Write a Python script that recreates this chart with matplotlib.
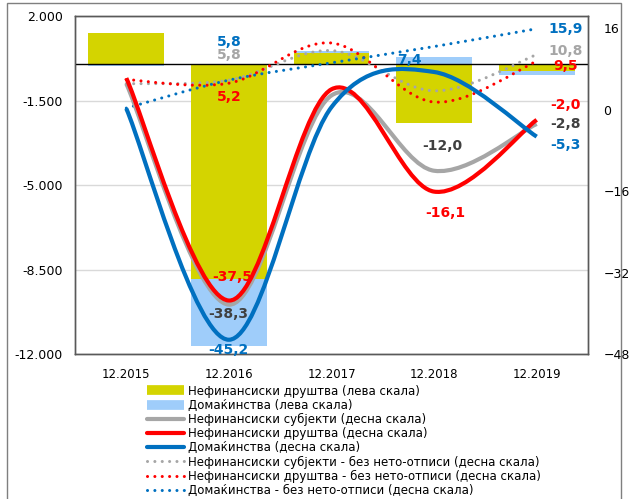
import numpy as np
import matplotlib.pyplot as plt
from matplotlib.path import Path
from matplotlib.patches import PathPatch, Rectangle
from matplotlib.lines import Line2D

years = ['12.2015', '12.2016', '12.2017', '12.2018', '12.2019']

# лева скала - столбови (млн. денари)
bar_corp = [1300, -8900, 450, -2450, -280]
bar_hh = [-60, -2750, 100, 290, -170]

# десна скала - линии (%)
nfs = [5.1, -38.3, 2.8, -12.0, -2.8]
corp = [6.2, -37.5, 4.0, -16.1, -2.0]
hh = [0.2, -45.2, 0.5, 7.4, -5.3]
nfs_wo = [5.1, 5.8, 11.6, 3.7, 10.8]
corp_wo = [5.9, 5.2, 13.1, 1.5, 9.5]
hh_wo = [0.3, 5.8, 9.2, 12.4, 15.9]

left_ticks = [-12000, -8500, -5000, -1500, 2000]
right_ticks = [-48, -32, -16, 0, 16]

legend_labels = [
    'Нефинансиски друштва (лева скала)',
    'Домаќинства (лева скала)',
    'Нефинансиски субјекти (десна скала)',
    'Нефинансиски друштва (десна скала)',
    'Домаќинства (десна скала)',
    'Нефинансиски субјекти - без нето-отписи (десна скала)',
    'Нефинансиски друштва - без нето-отписи (десна скала)',
    'Домаќинства - без нето-отписи (десна скала)',
]

YEL = '#D4D400'
LBLUE = '#9FCDFA'
GRAY = '#A6A6A6'
DGRAY = '#404040'
RED = '#FF0000'
BLUE = '#0070C0'


def smooth_path(x, y):
    # excel-style smoothed line as cubic bezier segments
    p = np.column_stack([x, y]).astype(float)
    p = np.vstack([p[0], p, p[-1]])
    verts = [tuple(p[1])]
    codes = [Path.MOVETO]
    for i in range(len(x) - 1):
        c1 = p[i + 1] + (p[i + 2] - p[i]) / 6
        c2 = p[i + 2] - (p[i + 3] - p[i + 1]) / 6
        verts += [tuple(c1), tuple(c2), tuple(p[i + 2])]
        codes += [Path.CURVE4] * 3
    return Path(verts, codes)


fig = plt.figure(figsize=(6.29, 4.99), dpi=100)
fig.patches.append(Rectangle((7 / 629, -0.1), 614 / 629, 1.1 - 3 / 499,
                             transform=fig.transFigure, fill=False,
                             edgecolor='#7F7F7F', lw=1))

ax = fig.add_axes([75 / 629, 1 - 354 / 499, 513 / 629, 338 / 499])
x = np.arange(len(years))

# stacked columns, positive and negative parts stacked separately
corp_arr = np.array(bar_corp, float)
hh_arr = np.array(bar_hh, float)
hh_bottom = np.where(np.sign(hh_arr) == np.sign(corp_arr), corp_arr, 0)
ax.bar(x, corp_arr, width=0.74, color=YEL, zorder=2)
ax.bar(x, hh_arr, bottom=hh_bottom, width=0.74, color=LBLUE, zorder=2)
ax.axhline(0, color='black', lw=1, zorder=3)

ax.set_xlim(-0.5, len(years) - 0.5)
ax.set_ylim(-12000, 2000)
ax.set_yticks(left_ticks)
ax.set_yticklabels([f'{v:,}'.replace(',', '.') for v in left_ticks])
ax.set_xticks(x)
ax.set_xticklabels(years)
ax.yaxis.grid(True, color='#D9D9D9', lw=1)
ax.set_axisbelow(True)
ax.tick_params(length=0, labelsize=9, colors='black')
ax.tick_params(axis='y', pad=9)
ax.tick_params(axis='x', pad=10, labelsize=8.5)
for s in ax.spines.values():
    s.set_color('#595959')
    s.set_linewidth(1)

ax2 = ax.twinx()
ax2.set_ylim(-48, 18.4)
ax2.set_yticks(right_ticks)
ax2.tick_params(length=0, labelsize=9, pad=11)
for s in ax2.spines.values():
    s.set_color('#595959')
    s.set_linewidth(1)

solid = [(nfs, GRAY), (corp, RED), (hh, BLUE)]
dotted = [(nfs_wo, GRAY), (corp_wo, RED), (hh_wo, BLUE)]
for vals, col in dotted:
    ax2.add_patch(PathPatch(smooth_path(x, vals), fill=False, edgecolor=col,
                            lw=2.2, linestyle=(0, (0.01, 2.4)),
                            capstyle='round', zorder=3))
for vals, col in solid:
    ax2.add_patch(PathPatch(smooth_path(x, vals), fill=False, edgecolor=col,
                            lw=3, capstyle='butt', joinstyle='round', zorder=4))

# data labels: (series, index, colour, dx, dy) offsets in pixels
labels = [
    (hh_wo, 1, BLUE, 0, 38),
    (nfs_wo, 1, GRAY, 0, 25),
    (corp_wo, 1, RED, 0, -14),
    (corp, 1, RED, 3, 24),
    (nfs, 1, DGRAY, -1, -9),
    (hh, 1, BLUE, -1, -10),
    (hh, 3, BLUE, -25, 12),
    (nfs, 3, DGRAY, 8, 25),
    (corp, 3, RED, 11, -21),
    (hh_wo, 4, BLUE, 29, 0),
    (nfs_wo, 4, GRAY, 29, 4),
    (corp_wo, 4, RED, 29, -5),
    (corp, 4, RED, 29, 15),
    (nfs, 4, DGRAY, 29, 0),
    (hh, 4, BLUE, 29, -8),
]
for vals, i, col, dx, dy in labels:
    ax2.annotate(f'{vals[i]:.1f}'.replace('.', ','), (x[i], vals[i]),
                 xytext=(dx * 0.72, dy * 0.72), textcoords='offset points',
                 ha='center', va='center', fontsize=10, fontweight='bold',
                 color=col, zorder=6, annotation_clip=False)

handles = [
    Line2D([], [], color=YEL, lw=7, solid_capstyle='butt'),
    Line2D([], [], color=LBLUE, lw=7, solid_capstyle='butt'),
    Line2D([], [], color=GRAY, lw=3, solid_capstyle='round'),
    Line2D([], [], color=RED, lw=3, solid_capstyle='round'),
    Line2D([], [], color=BLUE, lw=3, solid_capstyle='round'),
    Line2D([], [], color=GRAY, lw=2.2, ls=(0, (0.01, 2.4)), dash_capstyle='round'),
    Line2D([], [], color=RED, lw=2.2, ls=(0, (0.01, 2.4)), dash_capstyle='round'),
    Line2D([], [], color=BLUE, lw=2.2, ls=(0, (0.01, 2.4)), dash_capstyle='round'),
]
fig.legend(handles, legend_labels, loc='upper left',
           bbox_to_anchor=(147 / 629, 1 - 384.5 / 499), frameon=False,
           fontsize=8.5, handlelength=3.15, handletextpad=0.3,
           labelspacing=0.1, borderpad=0, borderaxespad=0)

fig.savefig('out.png', dpi=100)
